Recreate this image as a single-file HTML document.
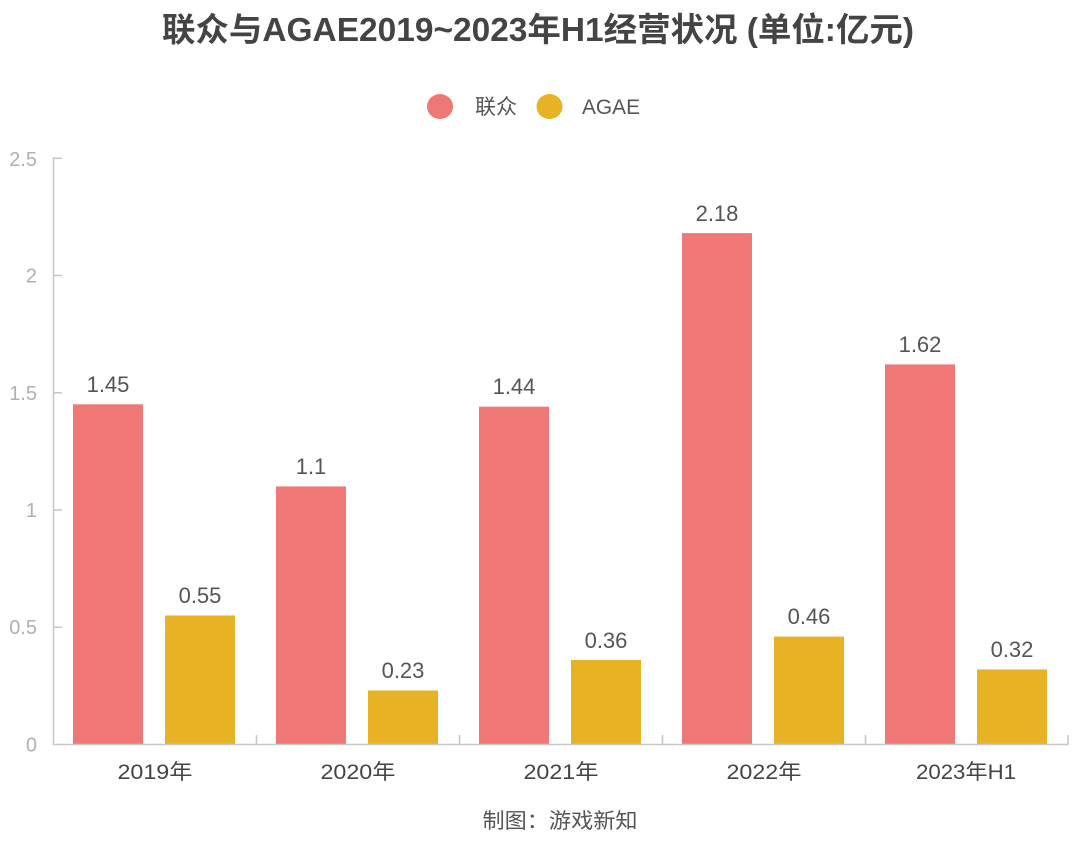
<!DOCTYPE html>
<html>
<head>
<meta charset="utf-8">
<style>
html,body{margin:0;padding:0;background:#fff;}
svg{display:block;}
text{font-family:"Liberation Sans","Noto Sans CJK SC",sans-serif;}
</style>
</head>
<body>
<svg width="1080" height="844" viewBox="0 0 1080 844" xmlns="http://www.w3.org/2000/svg">
<rect width="1080" height="844" fill="#fff"/>
<!-- title -->
<text x="538" y="41" text-anchor="middle" font-size="33" font-weight="bold" fill="#444" textLength="752" lengthAdjust="spacingAndGlyphs">联众与AGAE2019~2023年H1经营状况 (单位:亿元)</text>
<!-- legend -->
<ellipse cx="440" cy="106.5" rx="13" ry="12.5" fill="#EF7877"/>
<text x="475" y="114" font-size="21" fill="#555">联众</text>
<ellipse cx="549.5" cy="106.5" rx="13" ry="12.5" fill="#E7B224"/>
<text x="582" y="114" font-size="21" fill="#555" textLength="58" lengthAdjust="spacingAndGlyphs">AGAE</text>
<!-- y labels -->
<g font-size="20" fill="#b0b0b0" text-anchor="end">
<text x="37" y="166">2.5</text>
<text x="37" y="282.5">2</text>
<text x="37" y="400">1.5</text>
<text x="37" y="517">1</text>
<text x="37" y="634">0.5</text>
<text x="37" y="751.5">0</text>
</g>
<!-- bars -->
<g fill="#EF7877">
<rect x="73" y="404.3" width="70" height="340.2"/>
<rect x="276" y="486.4" width="70" height="258.1"/>
<rect x="479" y="406.7" width="70" height="337.8"/>
<rect x="682" y="233.1" width="70" height="511.4"/>
<rect x="885" y="364.4" width="70" height="380.1"/>
</g>
<g fill="#E7B224">
<rect x="165" y="615.5" width="70" height="129"/>
<rect x="368" y="690.5" width="70" height="54"/>
<rect x="571" y="660" width="70" height="84.5"/>
<rect x="774" y="636.6" width="70" height="107.9"/>
<rect x="977" y="669.4" width="70" height="75.1"/>
</g>
<!-- axes -->
<g stroke="#c8c8c8" stroke-width="1.6" fill="none">
<line x1="53.5" y1="157" x2="53.5" y2="745"/>
<line x1="53" y1="744.5" x2="1068.5" y2="744.5"/>
<line x1="53.5" y1="158.3" x2="62" y2="158.3"/>
<line x1="53.5" y1="275.5" x2="62" y2="275.5"/>
<line x1="53.5" y1="392.8" x2="62" y2="392.8"/>
<line x1="53.5" y1="510" x2="62" y2="510"/>
<line x1="53.5" y1="627.2" x2="62" y2="627.2"/>
<line x1="256.5" y1="735" x2="256.5" y2="744.5"/>
<line x1="459.5" y1="735" x2="459.5" y2="744.5"/>
<line x1="662.5" y1="735" x2="662.5" y2="744.5"/>
<line x1="865.5" y1="735" x2="865.5" y2="744.5"/>
<line x1="1068" y1="735" x2="1068" y2="744.5"/>
</g>
<!-- value labels -->
<g font-size="22" fill="#555" text-anchor="middle">
<text x="108" y="392">1.45</text>
<text x="200" y="603">0.55</text>
<text x="311" y="474">1.1</text>
<text x="403" y="678">0.23</text>
<text x="514" y="394">1.44</text>
<text x="606" y="648">0.36</text>
<text x="717" y="221">2.18</text>
<text x="809" y="624">0.46</text>
<text x="920" y="352">1.62</text>
<text x="1012" y="657">0.32</text>
</g>
<!-- x labels -->
<g font-size="21" fill="#444" text-anchor="middle">
<text x="155" y="779" textLength="75" lengthAdjust="spacingAndGlyphs">2019年</text>
<text x="358" y="779" textLength="75" lengthAdjust="spacingAndGlyphs">2020年</text>
<text x="561" y="779" textLength="75" lengthAdjust="spacingAndGlyphs">2021年</text>
<text x="764" y="779" textLength="75" lengthAdjust="spacingAndGlyphs">2022年</text>
<text x="966" y="779" textLength="100" lengthAdjust="spacingAndGlyphs">2023年H1</text>
</g>
<!-- footer -->
<text x="560" y="828" font-size="21" fill="#555" text-anchor="middle" textLength="155" lengthAdjust="spacingAndGlyphs">制图：游戏新知</text>
</svg>
</body>
</html>
